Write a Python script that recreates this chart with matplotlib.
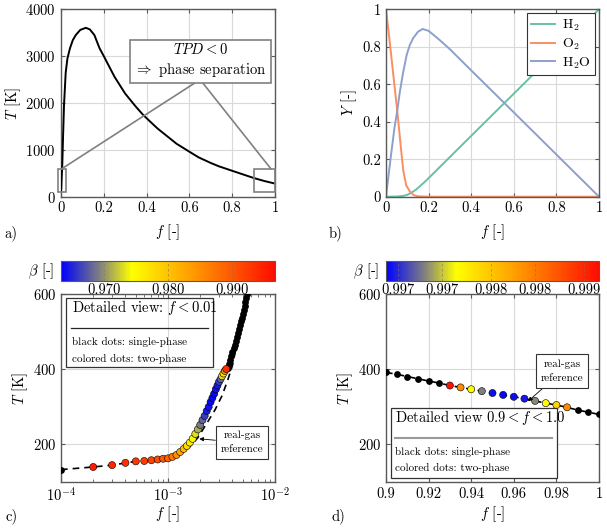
import numpy as np
import matplotlib.pyplot as plt
from matplotlib.colors import LinearSegmentedColormap, Normalize
from matplotlib.patches import Rectangle
import matplotlib as mpl

plt.rcParams['font.family'] = 'serif'
plt.rcParams['font.serif'] = ['cmr10']
plt.rcParams['mathtext.fontset'] = 'cm'
plt.rcParams['axes.unicode_minus'] = False
plt.rcParams['axes.formatter.use_mathtext'] = True
plt.rcParams['font.size'] = 10.5

# ---- panel a: temperature over mixture fraction
f_a = [0, 0.001, 0.003, 0.0055, 0.0094, 0.014, 0.022, 0.03, 0.042, 0.055, 0.069, 0.09,
       0.116, 0.135, 0.156, 0.18, 0.2, 0.25, 0.3, 0.35, 0.385, 0.45, 0.54, 0.6, 0.643,
       0.7, 0.737, 0.815, 0.9, 0.95, 1.0]
T_a = [130, 165, 400, 600, 1250, 1950, 2650, 2950, 3170, 3340, 3450, 3560,
       3605, 3570, 3450, 3170, 3000, 2560, 2200, 1920, 1740, 1460, 1130, 960, 840,
       720, 650, 530, 400, 335, 280]

# ---- panel b: mass fractions
f_h2 = [0, 0.05, 0.08, 0.1, 0.12, 0.14, 0.16, 0.18, 0.2, 0.3, 1.0]
Y_h2 = [0, 0.001, 0.004, 0.01, 0.022, 0.037, 0.057, 0.077, 0.099, 0.212, 1.0]
f_o2 = [0, 0.02, 0.04, 0.053, 0.07, 0.081, 0.095, 0.1125, 0.13, 0.15, 0.2, 1.0]
Y_o2 = [1, 0.8, 0.59, 0.457, 0.26, 0.14, 0.06, 0.027, 0.008, 0.002, 0, 0]
f_h2o = [0, 0.02, 0.04, 0.053, 0.065, 0.08, 0.097, 0.112, 0.128, 0.15, 0.172, 0.2, 0.25,
         0.3, 0.4, 0.6, 0.8, 1.0]
Y_h2o = [0, 0.19, 0.37, 0.46, 0.56, 0.66, 0.756, 0.81, 0.847, 0.88, 0.895, 0.885, 0.838,
         0.787, 0.674, 0.45, 0.225, 0]

# ---- panel c: detailed view f < 0.01
f_c = [1e-4, 2e-4, 3e-4, 4e-4, 5e-4, 6e-4, 7e-4, 8e-4, 9e-4, 1.0e-3,
       1.1e-3, 1.2e-3, 1.3e-3, 1.4e-3, 1.5e-3, 1.6e-3, 1.7e-3, 1.8e-3, 1.9e-3, 2.0e-3,
       2.1e-3, 2.2e-3, 2.3e-3, 2.4e-3, 2.5e-3, 2.6e-3, 2.7e-3, 2.8e-3, 2.9e-3, 3.0e-3,
       3.1e-3, 3.2e-3, 3.3e-3, 3.4e-3, 3.5e-3, 3.6e-3, 3.7e-3, 3.8e-3, 3.9e-3, 4.0e-3,
       4.1e-3, 4.2e-3, 4.3e-3, 4.4e-3, 4.5e-3, 4.6e-3, 4.7e-3, 4.8e-3, 4.9e-3, 5.0e-3,
       5.1e-3, 5.2e-3, 5.3e-3, 5.4e-3, 5.5e-3]
T_c = [133, 140, 145, 151, 155, 156, 158, 160, 162, 163,
       167, 172, 180, 188, 196, 205, 215, 228, 240, 252,
       265, 276, 289, 300, 313, 324, 335, 347, 357, 367,
       374, 382, 389, 396, 401, 405, 415, 425, 436, 446,
       456, 466, 476, 487, 497, 507, 517, 528, 538, 548,
       558, 569, 579, 590, 600]
beta_c = [None, 0.9955, 0.9945, 0.9935, 0.993, 0.9925, 0.992, 0.991, 0.990, 0.989,
          0.987, 0.985, 0.983, 0.981, 0.978, 0.976, 0.974, 0.973, 0.971, 0.969,
          0.968, 0.966, 0.9645, 0.964, 0.9637, 0.9635, 0.9635, 0.964, 0.9645, 0.966,
          0.968, 0.973, 0.978, 0.985, 0.994] + [None] * 20
f_c_ref = [1e-4, 2e-4, 3e-4, 5e-4, 7e-4, 1e-3, 1.3e-3, 1.6e-3, 1.9e-3, 2.3e-3,
           2.75e-3, 3.2e-3, 3.6e-3, 4.0e-3, 5.5e-3]
T_c_ref = [133, 140, 145, 155, 158, 163, 174, 194, 218, 256, 292, 330, 370, 410, 600]

# ---- panel d: detailed view 0.9 < f < 1.0
f_d = [0.9, 0.905, 0.91, 0.915, 0.92, 0.925, 0.93, 0.935, 0.94, 0.945, 0.95,
       0.955, 0.96, 0.965, 0.97, 0.975, 0.98, 0.985, 0.99, 0.995, 1.0]
T_d = [392, 387, 381, 375, 369, 363.5, 357, 352, 347, 342, 337,
       332, 327, 322, 316, 310, 305, 299, 291.5, 286, 280]
beta_d = [None] * 6 + [0.99912, 0.99838, 0.99765, 0.99728, 0.99692,
                       0.99690, 0.99692, 0.99695, 0.99730, 0.99765, 0.99790, 0.99838] + [None] * 3

cb_c_ticks = [0.970, 0.980, 0.990]
cb_d_ticks = [0.9970, 0.99747, 0.9980, 0.99847, 0.9990]
cb_d_labels = ['0.997', '0.997', '0.998', '0.998', '0.999']

cmap = LinearSegmentedColormap.from_list(
    'beta', [(0.0, (0, 0, 1)), (0.18, (0.5, 0.5, 0.5)), (0.33, (1, 1, 0)),
             (0.62, (1, 0.6, 0)), (1.0, (1, 0.05, 0))])

frame_col = '0.35'
grid_col = '0.85'


def style(ax):
    for s in ax.spines.values():
        s.set_color(frame_col)
        s.set_linewidth(1.0)
    ax.grid(True, color=grid_col, linewidth=0.8)
    ax.set_axisbelow(True)
    ax.tick_params(which='both', direction='in', top=True, right=True,
                   color=frame_col, length=3, labelsize=10.5)
    ax.tick_params(which='minor', length=2)


fig = plt.figure(figsize=(6.07, 5.29), dpi=100)
W, H = 607, 529


def box(x0, y0, x1, y1):
    return [x0 / W, 1 - y1 / H, (x1 - x0) / W, (y1 - y0) / H]


def labels(ax, pad=5):
    ax.set_xlabel('$f$ [-]', labelpad=pad)
    ax.set_ylabel(ax.get_ylabel(), labelpad=2)


# ---------------- a
ax = fig.add_axes(box(61, 9.3, 275, 196.7))
style(ax)
ax.plot(f_a, T_a, color='k', lw=1.4, zorder=3)
ax.set_xlim(0, 1)
ax.set_ylim(0, 4000)
ax.set_xticks([0, 0.2, 0.4, 0.6, 0.8, 1])
ax.set_xticklabels(['0', '0.2', '0.4', '0.6', '0.8', '1'])
ax.set_yticks([0, 1000, 2000, 3000, 4000])
ax.set_ylabel('$T$ [K]')
labels(ax)
gcol = '0.5'
ax.add_patch(Rectangle((-0.015, 100), 0.04, 500, fill=False, ec=gcol, lw=1.2, clip_on=False, zorder=4))
ax.add_patch(Rectangle((0.9, 100), 0.1, 500, fill=False, ec=gcol, lw=1.2, clip_on=False, zorder=4))
ax.plot([0.005, 0.65, 0.98], [600, 2500, 600], color=gcol, lw=1.2, zorder=4)
ax.text(0.651, 2908, '$TPD < 0$\n$\\Rightarrow$ phase separation', ha='center', va='center',
        fontsize=10.5, linespacing=1.3, zorder=5,
        bbox=dict(boxstyle='square,pad=0.3', fc='white', ec=gcol, lw=1.2))
fig.text(4 / W, 1 - 233 / H, 'a)', ha='left', va='center', fontsize=10.5)

# ---------------- b
ax = fig.add_axes(box(386, 9.3, 599, 196.7))
style(ax)
ax.plot(f_h2, Y_h2, color='#66c2a5', lw=1.4, label='H$_2$')
ax.plot(f_o2, Y_o2, color='#fc8d62', lw=1.4, label='O$_2$')
ax.plot(f_h2o, Y_h2o, color='#8da0cb', lw=1.4, label='H$_2$O')
ax.set_xlim(0, 1)
ax.set_ylim(0, 1)
ax.set_xticks([0, 0.2, 0.4, 0.6, 0.8, 1])
ax.set_xticklabels(['0', '0.2', '0.4', '0.6', '0.8', '1'])
ax.set_yticks([0, 0.2, 0.4, 0.6, 0.8, 1])
ax.set_yticklabels(['0', '0.2', '0.4', '0.6', '0.8', '1'])
ax.set_ylabel('$Y$ [-]')
labels(ax)
leg = ax.legend(loc='upper right', fancybox=False, framealpha=1, edgecolor='0.2',
                handlelength=1.7, handletextpad=0.5, borderpad=0.3, borderaxespad=0.3,
                fontsize=10, labelspacing=0.25)
leg.get_frame().set_linewidth(0.8)
fig.text(329 / W, 1 - 233 / H, 'b)', ha='left', va='center', fontsize=10.5)

norm_c = Normalize(0.9632, 0.9968)
norm_d = Normalize(0.99687, 0.99916)


def colorbar(rect, norm, ticks, labels):
    cax = fig.add_axes(rect)
    cb = mpl.colorbar.ColorbarBase(cax, cmap=cmap, norm=norm, orientation='horizontal')
    cb.outline.set_edgecolor(frame_col)
    cb.set_ticks(ticks)
    cb.set_ticklabels(labels)
    cax.tick_params(direction='in', length=0, pad=2, labelsize=10.5)
    for t in ticks:
        cax.axvline(t, color='0.45', ls=(0, (3, 3)), lw=0.6, alpha=0.6)
    cax.text(-0.03, 0.5, r'$\beta$ [-]', transform=cax.transAxes, ha='right', va='center', fontsize=10.5)
    return cax


def dots(ax, f, T, beta, norm):
    blk_f = [x for x, b in zip(f, beta) if b is None]
    blk_T = [y for y, b in zip(T, beta) if b is None]
    col_f = [x for x, b in zip(f, beta) if b is not None]
    col_T = [y for y, b in zip(T, beta) if b is not None]
    col_b = [b for b in beta if b is not None]
    ax.scatter(blk_f, blk_T, s=24, color='k', lw=0, zorder=4)
    ax.scatter(col_f, col_T, s=26, c=col_b, cmap=cmap, norm=norm, edgecolors='k',
               linewidths=0.4, zorder=5)


rg_box = dict(boxstyle='square,pad=0.45', fc='white', ec='0.2', lw=0.8)
rg_arrow = dict(arrowstyle='-|>', color='k', lw=0.6, mutation_scale=6, shrinkA=0, shrinkB=0)

# ---------------- c
ax = fig.add_axes(box(61, 294.3, 275, 482))
style(ax)
ax.set_xscale('log')
ax.plot(f_c_ref, T_c_ref, color='k', ls=(0, (4, 3)), lw=1.2, zorder=3)
dots(ax, f_c, T_c, beta_c, norm_c)
ax.set_xlim(1e-4, 1e-2)
ax.set_ylim(100, 600)
ax.set_yticks([200, 400, 600])
ax.set_ylabel('$T$ [K]')
labels(ax, pad=0)
ax.add_patch(Rectangle((0.023, 0.612), 0.687, 0.367, transform=ax.transAxes, fill=False,
                       ec='0.2', lw=0.9, zorder=6))
ax.text(0.05, 0.928, 'Detailed view: $f < 0.01$', transform=ax.transAxes, ha='left', va='center',
        fontsize=10.5, zorder=7)
ax.plot([0.045, 0.689], [0.821, 0.821], transform=ax.transAxes, color='0.15', lw=0.9, zorder=7)
ax.text(0.05, 0.746, 'black dots: single-phase', transform=ax.transAxes, ha='left', va='center',
        fontsize=8, zorder=7)
ax.text(0.05, 0.658, 'colored dots: two-phase', transform=ax.transAxes, ha='left', va='center',
        fontsize=8, zorder=7)
ax.annotate('real-gas\nreference', xy=(1.96e-3, 215), xytext=(0.846, 0.21),
            textcoords='axes fraction', ha='center', va='center', fontsize=8, linespacing=1.6,
            bbox=rg_box, arrowprops=rg_arrow, zorder=7)
colorbar(box(61, 261, 275, 281), norm_c, cb_c_ticks, ['%.3f' % t for t in cb_c_ticks])
fig.text(5 / W, 1 - 516 / H, 'c)', ha='left', va='center', fontsize=10.5)

# ---------------- d
ax = fig.add_axes(box(386, 294.3, 599, 482))
style(ax)
ax.plot(f_d, T_d, color='k', ls=(0, (4, 3)), lw=1.2, zorder=3)
dots(ax, f_d, T_d, beta_d, norm_d)
ax.set_xlim(0.9, 1.0)
ax.set_ylim(100, 600)
ax.set_xticks([0.9, 0.92, 0.94, 0.96, 0.98, 1.0])
ax.set_xticklabels(['0.9', '0.92', '0.94', '0.96', '0.98', '1'])
ax.set_yticks([200, 400, 600])
ax.set_ylabel('$T$ [K]')
labels(ax, pad=3)
ax.add_patch(Rectangle((0.023, 0.021), 0.78, 0.373, transform=ax.transAxes, fc='white',
                       ec='0.2', lw=0.9, zorder=6))
ax.text(0.042, 0.342, 'Detailed view $0.9 < f < 1.0$', transform=ax.transAxes, ha='left', va='center',
        fontsize=10.5, zorder=7)
ax.plot([0.042, 0.78], [0.236, 0.236], transform=ax.transAxes, color='0.6', lw=1.5, zorder=7)
ax.text(0.042, 0.161, 'black dots: single-phase', transform=ax.transAxes, ha='left', va='center',
        fontsize=8, zorder=7)
ax.text(0.042, 0.073, 'colored dots: two-phase', transform=ax.transAxes, ha='left', va='center',
        fontsize=8, zorder=7)
ax.annotate('real-gas\nreference', xy=(0.9667, 315), xytext=(0.826, 0.59),
            textcoords='axes fraction', ha='center', va='center', fontsize=8, linespacing=1.6,
            bbox=rg_box, arrowprops=rg_arrow, zorder=7)
colorbar(box(386, 261, 599, 281), norm_d, cb_d_ticks, cb_d_labels)
fig.text(332 / W, 1 - 516 / H, 'd)', ha='left', va='center', fontsize=10.5)

fig.savefig('out.png', dpi=100)
